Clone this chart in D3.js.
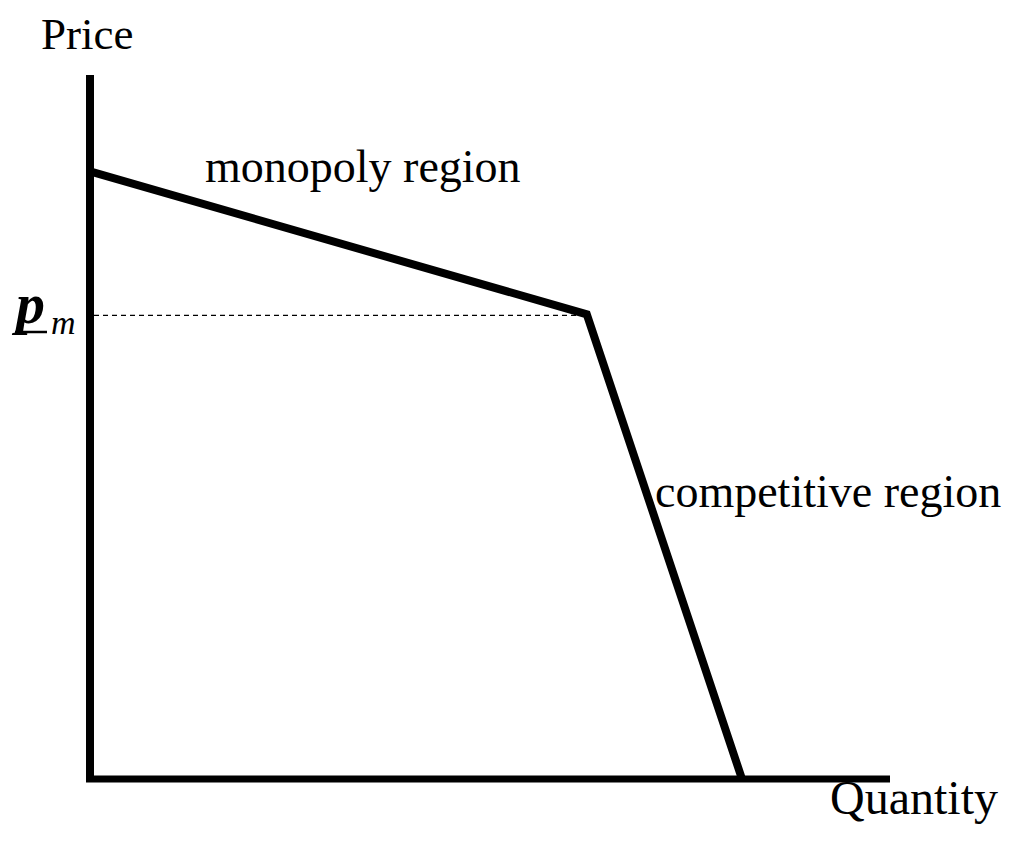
<!DOCTYPE html>
<html lang="en">
<head>
    <meta charset="UTF-8">
    <title>Demand</title>
    <script src="https://d3js.org/d3.v7.min.js"></script>
    <style>
        body { margin: 0; background: #fff; }
        text { font-family: 'Liberation Serif', 'DejaVu Serif', serif; fill: #000; }
    </style>
</head>
<body>
<script>
    const width  = 1036;
    const height = 844;

    // kinked demand curve (quantity, price), axes run 0..100
    const quantity = [0, 62.1, 81.5];
    const price    = [86.3, 66.0, 0];
    const pm = 66.0;

    const svg = d3.select("body").append("svg").attr("width", width).attr("height", height);

    const x = d3.scaleLinear().domain([0, 100]).range([90, 890]);
    const y = d3.scaleLinear().domain([0, 100]).range([779, 75]);

    // axes
    svg.append("line")
        .attr("x1", x(0)).attr("x2", x(0))
        .attr("y1", y(100)).attr("y2", y(0) + 3)
        .attr("stroke", "#000").attr("stroke-width", 8);
    svg.append("line")
        .attr("x1", x(0) - 4).attr("x2", x(100))
        .attr("y1", y(0)).attr("y2", y(0))
        .attr("stroke", "#000").attr("stroke-width", 7);

    // dashed p_m line
    svg.append("line")
        .attr("x1", x(0) + 4).attr("x2", x(quantity[1]))
        .attr("y1", y(pm) + 1).attr("y2", y(pm) + 1)
        .attr("stroke", "#000").attr("stroke-width", 1.3)
        .attr("stroke-dasharray", "5,4");

    const line = d3.line().x((d, i) => x(quantity[i])).y(d => y(d));
    svg.append("path")
        .attr("d", line(price))
        .attr("fill", "none")
        .attr("stroke", "#000")
        .attr("stroke-width", 8)
        .attr("stroke-linejoin", "miter");

    // labels
    const fs = "46px";
    svg.append("text").attr("x", 41).attr("y", 49).style("font-size", "45px").text("Price");
    svg.append("text").attr("x", 830).attr("y", 814).style("font-size", "48px").text("Quantity");
    svg.append("text").attr("x", 205).attr("y", 182).style("font-size", fs).text("monopoly region");
    svg.append("text").attr("x", 655).attr("y", 507).style("font-size", fs).text("competitive region");

    svg.append("text").attr("x", 16).attr("y", 323)
        .style("font-size", "58px").style("font-style", "italic").style("font-weight", "bold").text("p");
    svg.append("text").attr("x", 51).attr("y", 334)
        .style("font-size", "34px").style("font-style", "italic").text("m");
    svg.append("line")
        .attr("x1", 15).attr("x2", 47)
        .attr("y1", 332).attr("y2", 332)
        .attr("stroke", "#000").attr("stroke-width", 2.5);
</script>
</body>
</html>
